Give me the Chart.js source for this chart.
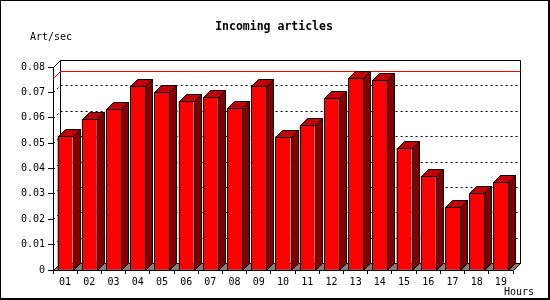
<!DOCTYPE html>
<html>
<head>
<meta charset="utf-8">
<title>Incoming articles</title>
<script src="https://cdn.jsdelivr.net/npm/chart.js@4.4.1/dist/chart.umd.min.js"></script>
<style>
  body { margin: 0; background: #fff; }
  canvas { display: block; }
</style>
</head>
<body>
<canvas id="articlesChart" width="550" height="300"></canvas>
<script>
// hours of the day and incoming article rate (art/sec)
const hours = ['01', '02', '03', '04', '05', '06', '07', '08', '09', '10',
               '11', '12', '13', '14', '15', '16', '17', '18', '19'];
const artPerSec = [0.0528, 0.0595, 0.0633, 0.0724, 0.0700, 0.0665, 0.0681, 0.0637, 0.0724, 0.0523,
                   0.0570, 0.0677, 0.0757, 0.0748, 0.0480, 0.0369, 0.0249, 0.0302, 0.0346];
const yMin = 0;
const yMax = 0.08;
const yStep = 0.01;

const depth = 7; // 3d offset, px
const monoFont = '"DejaVu Sans Mono", "Liberation Mono", monospace';

// back wall, floor, dotted grid and the red max line
const wallPlugin = {
    id: 'wall',
    beforeDraw(chart) {
        const ctx = chart.ctx;
        ctx.save();
        ctx.fillStyle = '#fff';
        ctx.fillRect(0, 0, chart.width, chart.height);
        ctx.restore();
    },
    beforeDatasetsDraw(chart) {
        const ctx = chart.ctx;
        const area = chart.chartArea;
        const yScale = chart.scales.y;
        const l = Math.round(area.left) + 0.5;
        const r = Math.round(area.right) + 0.5;
        const t = Math.round(area.top) + 0.5;
        const b = Math.round(area.bottom) + 0.5;
        ctx.save();
        ctx.lineWidth = 1;

        // floor
        ctx.fillStyle = '#808080';
        ctx.strokeStyle = '#000';
        ctx.beginPath();
        ctx.moveTo(l, b);
        ctx.lineTo(r, b);
        ctx.lineTo(r + depth, b - depth);
        ctx.lineTo(l + depth, b - depth);
        ctx.closePath();
        ctx.fill();
        ctx.stroke();

        // back wall + left wall top edge
        ctx.beginPath();
        ctx.moveTo(l, t);
        ctx.lineTo(l + depth, t - depth);
        ctx.lineTo(r + depth, t - depth);
        ctx.lineTo(r + depth, b - depth);
        ctx.moveTo(l + depth, t - depth);
        ctx.lineTo(l + depth, b - depth);
        ctx.stroke();

        // dotted grid lines on side wall and back wall
        ctx.setLineDash([2, 3]);
        for (let v = yMin + yStep; v < yMax - yStep / 2; v += yStep) {
            const y = Math.round(yScale.getPixelForValue(v)) + 0.5;
            ctx.beginPath();
            ctx.moveTo(l, y);
            ctx.lineTo(l + depth, y - depth);
            ctx.lineTo(r + depth, y - depth);
            ctx.stroke();
        }
        ctx.setLineDash([]);

        // max value line
        const maxVal = Math.max(...artPerSec);
        const ym = Math.round(yScale.getPixelForValue(maxVal)) + 0.5;
        ctx.strokeStyle = '#ff0000';
        ctx.beginPath();
        ctx.moveTo(l, ym);
        ctx.lineTo(l + depth, ym - depth);
        ctx.lineTo(r + depth, ym - depth);
        ctx.stroke();
        ctx.restore();
    },
    afterDatasetsDraw(chart) {
        const ctx = chart.ctx;
        const meta = chart.getDatasetMeta(0);
        ctx.save();
        ctx.lineWidth = 1;
        ctx.strokeStyle = '#000';
        meta.data.forEach(bar => {
            const p = bar.getProps(['x', 'y', 'base', 'width'], true);
            const left = Math.round(p.x - p.width / 2) + 0.5;
            const right = Math.round(p.x + p.width / 2) + 0.5;
            const top = Math.round(p.y) + 0.5;
            const base = Math.round(p.base) + 0.5;
            // top face
            ctx.fillStyle = '#c00000';
            ctx.beginPath();
            ctx.moveTo(left, top);
            ctx.lineTo(left + depth, top - depth);
            ctx.lineTo(right + depth, top - depth);
            ctx.lineTo(right, top);
            ctx.closePath();
            ctx.fill();
            ctx.stroke();
            // side face
            ctx.fillStyle = '#800000';
            ctx.beginPath();
            ctx.moveTo(right, top);
            ctx.lineTo(right + depth, top - depth);
            ctx.lineTo(right + depth, base - depth);
            ctx.lineTo(right, base);
            ctx.closePath();
            ctx.fill();
            ctx.stroke();
            // front face outline
            ctx.strokeRect(left, top, right - left, base - top);
        });
        ctx.restore();
    },
    afterDraw(chart) {
        const ctx = chart.ctx;
        ctx.save();
        // frame with a heavier right/bottom edge
        ctx.fillStyle = '#000';
        ctx.fillRect(0, 0, chart.width, 1);
        ctx.fillRect(0, 0, 1, chart.height);
        ctx.fillRect(chart.width - 2, 0, 2, chart.height);
        ctx.fillRect(0, chart.height - 2, chart.width, 2);
        // texts
        ctx.textBaseline = 'middle';
        ctx.textAlign = 'center';
        ctx.font = 'bold 11.5px ' + monoFont;
        ctx.fillText('Incoming articles', 274, 27);
        ctx.font = '10px ' + monoFont;
        ctx.textAlign = 'left';
        ctx.fillText('Art/sec', 30, 37);
        ctx.fillText('Hours', 504, 292);
        ctx.restore();
    }
};

const ctx = document.getElementById('articlesChart').getContext('2d');
const articlesChart = new Chart(ctx, {
    type: 'bar',
    data: {
        labels: hours,
        datasets: [{
            label: 'Art/sec',
            data: artPerSec,
            backgroundColor: '#ff0000',
            borderColor: '#000',
            borderWidth: 0,
            barPercentage: 0.62,
            categoryPercentage: 1.0
        }]
    },
    options: {
        responsive: false,
        animation: false,
        layout: {
            padding: { top: 67, right: 37, left: 0, bottom: 0 }
        },
        plugins: {
            legend: { display: false },
            tooltip: { enabled: false }
        },
        scales: {
            x: {
                offset: true,
                grid: {
                    offset: true,
                    drawOnChartArea: false,
                    drawTicks: true,
                    tickLength: 4,
                    color: '#000'
                },
                border: { display: true, color: '#000' },
                ticks: {
                    color: '#000',
                    padding: 2,
                    maxRotation: 0,
                    font: { family: monoFont, size: 10 }
                },
                afterFit(scale) { scale.height = 30; }
            },
            y: {
                min: yMin,
                max: yMax,
                grid: {
                    drawOnChartArea: false,
                    drawTicks: true,
                    tickLength: 5,
                    color: '#000'
                },
                border: { display: true, color: '#000' },
                ticks: {
                    stepSize: yStep,
                    color: '#000',
                    padding: 3,
                    font: { family: monoFont, size: 10 },
                    callback: v => (Math.abs(v) < 1e-9 ? '0' : v.toFixed(2))
                },
                afterFit(scale) { scale.width = 53; }
            }
        }
    },
    plugins: [wallPlugin]
});
</script>
</body>
</html>
